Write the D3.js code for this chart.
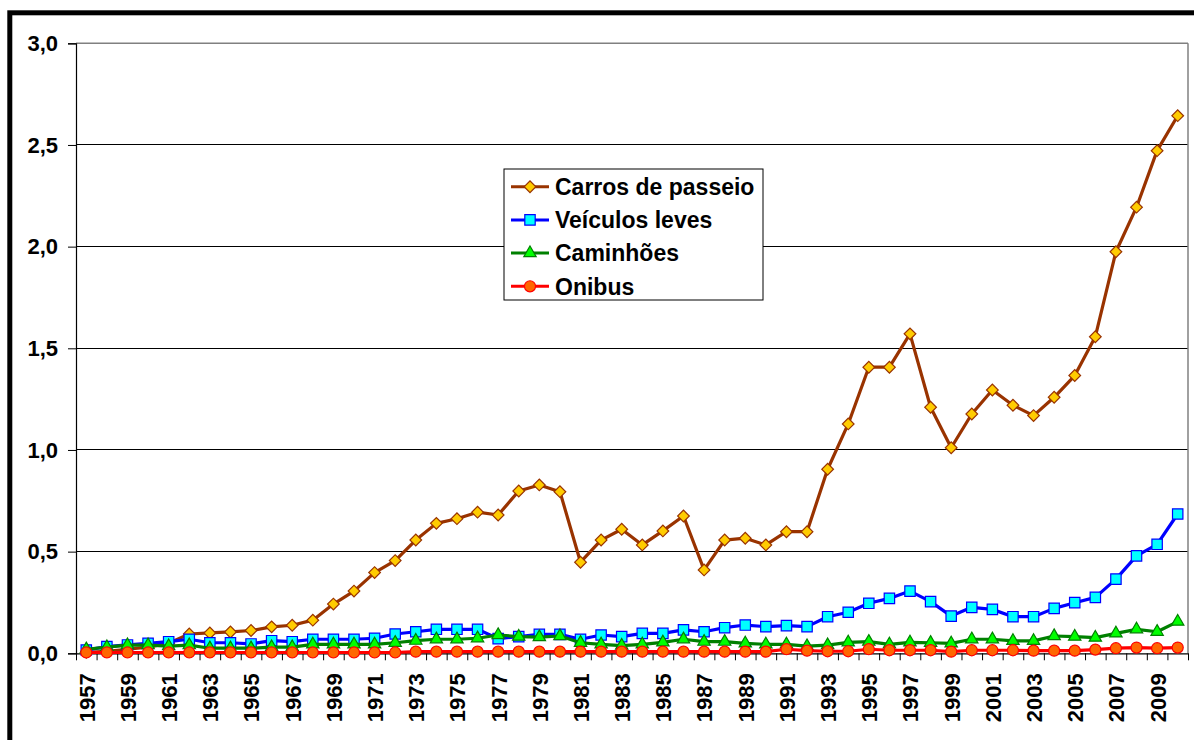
<!DOCTYPE html>
<html>
<head>
<meta charset="utf-8">
<script src="https://cdn.jsdelivr.net/npm/d3@7"></script>
<style>
  html, body { margin: 0; padding: 0; background: #fff; }
  svg { display: block; font-family: "Liberation Sans", Arial, sans-serif; font-weight: bold; }
</style>
</head>
<body>
<svg id="chart" width="1194" height="740"></svg>
<script>
const years = d3.range(1957, 2011);
const yTicks = [0, 0.5, 1.0, 1.5, 2.0, 2.5, 3.0];
const seriesNames = ["Carros de passeio", "Veículos leves", "Caminhões", "Onibus"];

const carros = [0.005,0.01,0.02,0.03,0.05,0.095,0.10,0.105,0.112,0.13,
  0.138,0.163,0.242,0.306,0.397,0.456,0.557,0.639,0.662,0.694,
  0.680,0.798,0.828,0.795,0.448,0.557,0.610,0.533,0.602,0.675,
  0.410,0.557,0.566,0.533,0.598,0.598,0.905,1.128,1.407,1.407,
  1.571,1.210,1.011,1.177,1.295,1.220,1.169,1.259,1.366,1.557,
  1.975,2.194,2.472,2.644];
const veiculos = [0.016,0.033,0.041,0.049,0.057,0.069,0.052,0.052,0.046,0.062,
  0.057,0.069,0.069,0.069,0.074,0.095,0.106,0.118,0.118,0.118,
  0.072,0.082,0.093,0.093,0.069,0.090,0.082,0.098,0.098,0.115,
  0.106,0.126,0.139,0.131,0.136,0.131,0.180,0.202,0.246,0.270,
  0.306,0.254,0.183,0.226,0.216,0.180,0.180,0.221,0.249,0.275,
  0.365,0.479,0.536,0.685];
const caminhoes = [0.02,0.03,0.04,0.04,0.035,0.04,0.025,0.025,0.025,0.03,
  0.03,0.044,0.044,0.044,0.044,0.052,0.062,0.069,0.069,0.074,
  0.09,0.082,0.08,0.085,0.052,0.044,0.038,0.044,0.054,0.069,
  0.057,0.057,0.049,0.044,0.044,0.035,0.040,0.054,0.057,0.044,
  0.054,0.052,0.049,0.069,0.069,0.061,0.061,0.085,0.082,0.077,
  0.098,0.118,0.106,0.156];
const onibus = [0.004,0.004,0.004,0.004,0.004,0.004,0.004,0.004,0.004,0.004,
  0.004,0.004,0.004,0.004,0.004,0.004,0.008,0.008,0.008,0.008,
  0.008,0.008,0.008,0.008,0.008,0.008,0.008,0.008,0.008,0.008,
  0.008,0.008,0.008,0.008,0.02,0.013,0.01,0.01,0.02,0.015,
  0.015,0.015,0.008,0.015,0.015,0.015,0.013,0.013,0.013,0.018,
  0.025,0.028,0.025,0.028];

const styles = [
  { line: "#993300", fill: "#FFCC00", stroke: "#993300", sym: "diamond" },
  { line: "#0000FF", fill: "#00FFFF", stroke: "#0000FF", sym: "square" },
  { line: "#008000", fill: "#00FF00", stroke: "#008000", sym: "triangle" },
  { line: "#FF0000", fill: "#FF6600", stroke: "#FF0000", sym: "circle" }
];
const allValues = [carros, veiculos, caminhoes, onibus];

const FONT = "'Liberation Sans', Arial, sans-serif";
const svg = d3.select("#chart");
const L = 76, R = 1188, T = 43.3, B = 653.3;

// outer frame
svg.append("rect").attr("x", 9.8).attr("y", 12.8).attr("width", 1300).attr("height", 900)
  .attr("fill", "none").attr("stroke", "#000").attr("stroke-width", 5);

const x = d3.scaleLinear().domain([1956.5, 2010.5]).range([L, R]);
const y = d3.scaleLinear().domain([0, 3]).range([B, T]);

// gridlines
svg.append("g").selectAll("line").data(yTicks.filter(v => v > 0 && v < 3)).join("line")
  .attr("x1", L).attr("x2", R).attr("y1", d => y(d)).attr("y2", d => y(d))
  .attr("stroke", "#000").attr("stroke-width", 1).attr("shape-rendering", "crispEdges");
// plot border top / right (gray)
svg.append("line").attr("x1", L).attr("x2", R).attr("y1", y(3)).attr("y2", y(3))
  .attr("stroke", "#808080").attr("stroke-width", 1.5);
svg.append("line").attr("x1", R).attr("x2", R).attr("y1", T).attr("y2", B)
  .attr("stroke", "#808080").attr("stroke-width", 1.5);

// y axis
const yAxis = svg.append("g").attr("transform", `translate(${L},0)`)
  .call(d3.axisLeft(y).tickValues(yTicks).tickSize(8).tickPadding(10)
    .tickFormat(d => d3.format(".1f")(d).replace(".", ",")));
yAxis.attr("font-family", FONT);
yAxis.select(".domain").attr("stroke", "#000").attr("stroke-width", 1.2);
yAxis.selectAll(".tick line").attr("stroke", "#000");
yAxis.selectAll("text").attr("font-size", 22).attr("font-weight", "bold").attr("fill", "#000")
  .attr("font-family", FONT);

// x axis ticks at category boundaries
const bounds = d3.range(1956.5, 2011, 1);
const xAxis = svg.append("g").attr("transform", `translate(0,${B})`)
  .call(d3.axisBottom(x).tickValues(bounds).tickSize(7).tickSizeOuter(0).tickFormat(""));
xAxis.select(".domain").attr("stroke", "#000").attr("stroke-width", 1.2);
xAxis.selectAll(".tick line").attr("stroke", "#000");

// x labels
const xLab = svg.append("g").attr("transform", `translate(0,${B})`)
  .call(d3.axisBottom(x).tickValues(years.filter(v => (v - 1957) % 2 === 0)).tickSize(0).tickFormat(d3.format("d")));
xLab.attr("font-family", FONT);
xLab.select(".domain").remove();
xLab.selectAll("text")
  .attr("transform", "rotate(-90)")
  .attr("x", -20).attr("y", 0).attr("dy", "0.36em")
  .attr("text-anchor", "end")
  .attr("font-size", 22).attr("font-weight", "bold").attr("fill", "#000")
  .attr("font-family", FONT);

function symbolPath(kind) {
  if (kind === "diamond") return d3.symbol().type(d3.symbolSquare).size(68)();
  if (kind === "square") return d3.symbol().type(d3.symbolSquare).size(108)();
  if (kind === "triangle") return d3.symbol().type(d3.symbolTriangle).size(66)();
  return d3.symbol().type(d3.symbolCircle).size(96)();
}
function markerTransform(kind, px, py) {
  return kind === "diamond" ? `translate(${px},${py}) rotate(45)` : `translate(${px},${py})`;
}

const line = d3.line().x((d, i) => x(years[i])).y(d => y(d));

allValues.forEach((vals, si) => {
  const st = styles[si];
  const g = svg.append("g");
  g.append("path").attr("d", line(vals)).attr("fill", "none")
    .attr("stroke", st.line).attr("stroke-width", 3.2).attr("stroke-linejoin", "round");
  g.selectAll("path.m").data(vals).join("path").attr("class", "m")
    .attr("d", symbolPath(st.sym))
    .attr("transform", (d, i) => markerTransform(st.sym, x(years[i]), y(d)))
    .attr("fill", st.fill).attr("stroke", st.stroke).attr("stroke-width", 1.2);
});

// legend
const lg = svg.append("g");
lg.append("rect").attr("x", 504).attr("y", 169).attr("width", 259).attr("height", 131)
  .attr("fill", "#fff").attr("stroke", "#000").attr("stroke-width", 1);
seriesNames.forEach((name, i) => {
  const st = styles[i];
  const cy = 186.7 + i * 33.2;
  lg.append("line").attr("x1", 511).attr("x2", 549).attr("y1", cy).attr("y2", cy)
    .attr("stroke", st.line).attr("stroke-width", 3);
  lg.append("path").attr("d", symbolPath(st.sym))
    .attr("transform", markerTransform(st.sym, 530, cy))
    .attr("fill", st.fill).attr("stroke", st.stroke).attr("stroke-width", 1.2);
  lg.append("text").attr("x", 555).attr("y", cy).attr("dy", "0.36em")
    .attr("font-size", 23).attr("font-weight", "bold").attr("fill", "#000")
    .attr("font-family", FONT)
    .text(name);
});
</script>
</body>
</html>
